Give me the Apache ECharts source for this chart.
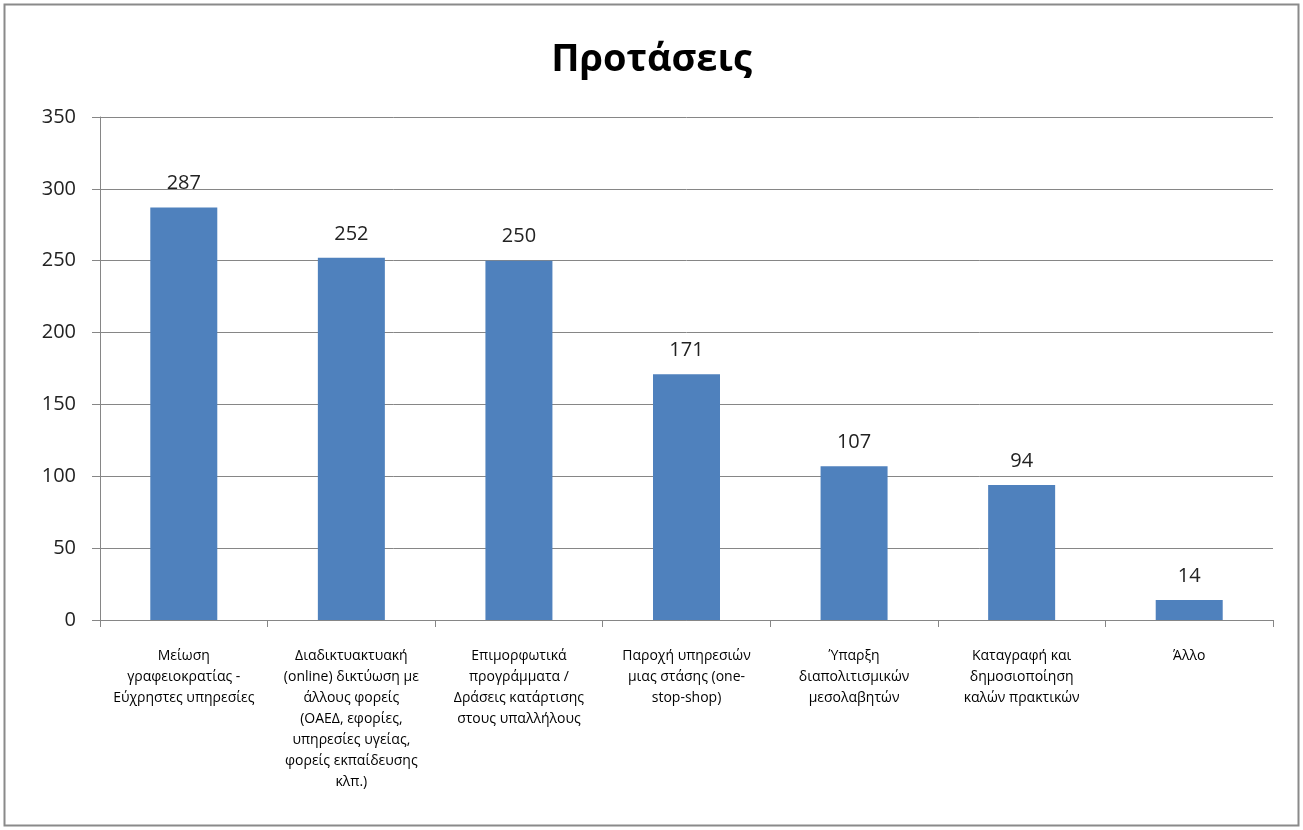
<!DOCTYPE html>
<html>
<head>
<meta charset="utf-8">
<script src="https://cdn.jsdelivr.net/npm/echarts@6/dist/echarts.min.js"></script>
<style>
	html,body{margin:0;padding:0;background:#fff;}
	#chart{width:1303px;height:830px;}
</style>
</head>
<body>
<div id="chart"></div>
<script>
	// data
	var titleText = 'Προτάσεις';
	var categories = [
		'Μείωση\nγραφειοκρατίας -\nΕύχρηστες υπηρεσίες',
		'Διαδικτυακτυακή\n(online) δικτύωση με\nάλλους φορείς\n(ΟΑΕΔ, εφορίες,\nυπηρεσίες υγείας,\nφορείς εκπαίδευσης\nκλπ.)',
		'Επιμορφωτικά\nπρογράμματα /\nΔράσεις κατάρτισης\nστους υπαλλήλους',
		'Παροχή υπηρεσιών\nμιας στάσης (one-\nstop-shop)',
		'Ύπαρξη\nδιαπολιτισμικών\nμεσολαβητών',
		'Καταγραφή και\nδημοσιοποίηση\nκαλών πρακτικών',
		'Άλλο'
	];
	var values = [287, 252, 250, 171, 107, 94, 14];

	var font = '"Open Sans", "Noto Sans", sans-serif';
	var mychart = echarts.init(document.getElementById('chart'));
	var option = {
		animation:false,
		title:{
			text:titleText,
			left:'center',
			top:36,
			textStyle:{
				fontFamily:font,
				fontSize:38,
				fontWeight:'bold',
				color:'#000'
			}
		},
		graphic:[{
			type:'rect',
			shape:{x:4.5,y:4.5,width:1294,height:821},
			style:{fill:null,stroke:'#8a8a8a',lineWidth:2},
			silent:true
		}],
		grid:{
			left:100,
			right:30,
			top:117,
			bottom:210
		},
		xAxis:{
			type:'category',
			data:categories,
			axisLine:{lineStyle:{color:'#868686',width:1}},
			axisTick:{show:true,length:7,lineStyle:{color:'#868686'}},
			axisLabel:{
				interval:0,
				margin:26,
				fontFamily:font,
				fontSize:14,
				lineHeight:21,
				color:'#000'
			}
		},
		yAxis:{
			type:'value',
			min:0,
			max:350,
			interval:50,
			axisLine:{show:true,lineStyle:{color:'#868686'}},
			axisTick:{show:true,length:8,lineStyle:{color:'#868686'}},
			axisLabel:{
				margin:24,
				fontFamily:font,
				fontSize:20,
				color:'#222'
			},
			splitLine:{lineStyle:{color:'#868686',width:1}}
		},
		series:[{
			type:'bar',
			data:values,
			barWidth:67,
			itemStyle:{color:'#4f81bd'},
			label:{
				show:true,
				position:'top',
				distance:14,
				fontFamily:font,
				fontSize:20,
				color:'#222'
			}
		}]
	};
	mychart.setOption(option);
</script>
</body>
</html>
